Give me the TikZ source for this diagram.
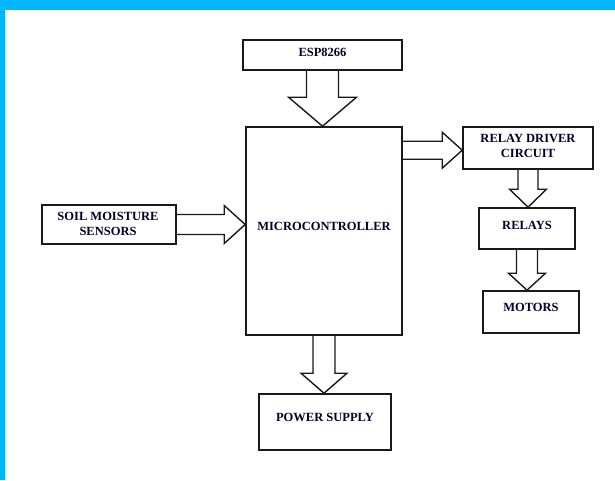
\documentclass[tikz,border=0pt]{standalone}
\usepackage{fontspec}
\setmainfont{Liberation Serif}
\usetikzlibrary{calc,backgrounds}
\definecolor{framecyan}{RGB}{0,183,255}
\newcommand\DownBlock[5]{\draw[barrow] let \p1=(#1), \p2=(#2) in
  (\x1-#3,\y1) -- (\x1-#3,\y2+#5) -- (\x1-#4,\y2+#5) -- (\x1,\y2) --
  (\x1+#4,\y2+#5) -- (\x1+#3,\y2+#5) -- (\x1+#3,\y1);}
\newcommand\RightBlock[5]{\draw[barrow] let \p1=(#1), \p2=(#2) in
  (\x1,\y1+#3) -- (\x2-#5,\y1+#3) -- (\x2-#5,\y1+#4) -- (\x2,\y1) --
  (\x2-#5,\y1-#4) -- (\x2-#5,\y1-#3) -- (\x1,\y1-#3);}
\begin{document}
\begin{tikzpicture}[x=1pt,y=-1pt,
  blk/.style={draw=black!90, line width=1.6pt, inner sep=0pt},
  lbl/.style={font=\bfseries\fontsize{12.5}{15}\selectfont, align=center, inner sep=0pt, text=black!85!blue},
  barrow/.style={draw=black!90, line width=1.4pt, fill=white, line join=miter}]
\useasboundingbox (0,0) rectangle (615,480);
% boxes
\node[blk, minimum width=159pt, minimum height=30pt] (esp) at (322.5,55) {};
\node[blk, minimum width=156pt, minimum height=208pt] (mcu) at (324,231) {};
\node[blk, minimum width=134pt, minimum height=39pt] (soil) at (109,224.5) {};
\node[blk, minimum width=130pt, minimum height=42pt] (drv) at (528,148) {};
\node[blk, minimum width=96pt, minimum height=41pt] (rel) at (527,228.5) {};
\node[blk, minimum width=96pt, minimum height=42pt] (mot) at (531,312) {};
\node[blk, minimum width=132pt, minimum height=56pt] (pwr) at (325,422) {};
% labels
\node[lbl] (esp-t) at (322.5,52) {ESP8266};
\node[lbl] (mcu-t) at (324,226) {MICROCONTROLLER};
\node[lbl] (soil-t) at (108,224) {SOIL MOISTURE\\SENSORS};
\node[lbl] (drv-t) at (528,145.5) {RELAY DRIVER\\CIRCUIT};
\node[lbl] (rel-t) at (527,225) {RELAYS};
\node[lbl] (mot-t) at (531,307) {MOTORS};
\node[lbl] (pwr-t) at (325,417) {POWER SUPPLY};
\coordinate (mcu-out) at ($(mcu.north east)+(0,24)$);
\begin{pgfonlayer}{background}
\fill[white] (0,0) rectangle (615,480);
\fill[framecyan] (0,0) rectangle (615,10);
\fill[framecyan] (0,0) rectangle (5,480);
\DownBlock{esp.south}{mcu.north}{16pt}{34pt}{29pt}
\DownBlock{mcu.south}{pwr.north}{11pt}{23pt}{20pt}
\DownBlock{drv.south}{rel.north}{10pt}{18.5pt}{18pt}
\DownBlock{rel.south}{mot.north}{10.5pt}{18.5pt}{17pt}
\RightBlock{soil.east}{mcu.west}{10pt}{19pt}{21pt}
\RightBlock{mcu-out}{drv.west}{9pt}{18pt}{20pt}
\end{pgfonlayer}
\end{tikzpicture}
\end{document}
